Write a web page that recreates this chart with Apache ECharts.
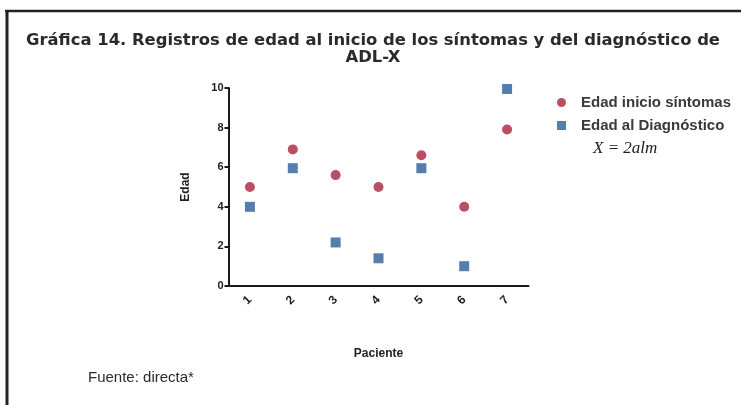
<!DOCTYPE html>
<html><head><meta charset="utf-8">
<script src="https://cdn.jsdelivr.net/npm/echarts@6/dist/echarts.min.js"></script>
<style>html,body{margin:0;padding:0;background:#fff}#c{width:741px;height:405px}</style>
</head><body><div id="c"></div>
<script>
const categories = ['1','2','3','4','5','6','7'];
const inicioSintomas = [5, 6.9, 5.6, 5, 6.6, 4, 7.9];
const diagnostico = [4, 5.95, 2.2, 1.4, 5.95, 1, 9.95];
const yTicks = [0, 2, 4, 6, 8, 10];

const chart = echarts.init(document.getElementById('c'));
chart.setOption({
  animation: false,
  backgroundColor: '#fff',
  title: {
    text: 'Gráfica 14. Registros de edad al inicio de los síntomas y del diagnóstico de\nADL-X',
    left: 368, top: 27, textAlign: 'center',
    textStyle: {fontFamily: 'DejaVu Sans', fontSize: 16.4, fontWeight: 'bold', color: '#2a2a2a', lineHeight: 17}
  },
  legend: {
    left: 552, top: 90, orient: 'vertical', itemGap: 8, itemWidth: 9, itemHeight: 9,
    textStyle: {fontFamily: 'Liberation Sans', fontSize: 15, fontWeight: 'bold', color: '#3a3a3a', padding: [0,0,0,10]},
    data: [{name: 'Edad inicio síntomas', icon: 'circle'}, {name: 'Edad al Diagnóstico', icon: 'rect'}]
  },
  grid: {left: 228.5, right: 212.5, top: 88, bottom: 119},
  xAxis: {
    type: 'category', data: categories, boundaryGap: true,
    name: 'Paciente', nameLocation: 'middle', nameGap: 62,
    nameTextStyle: {fontFamily: 'Liberation Sans', fontSize: 12, fontWeight: 'bold', color: '#222'},
    axisLine: {lineStyle: {color: '#1a1a1a', width: 2}},
    axisTick: {alignWithLabel: true, length: 4, lineStyle: {color: '#1a1a1a', width: 2}},
    axisLabel: {rotate: 45, margin: 12, fontFamily: 'Liberation Sans', fontSize: 12, fontWeight: 'bold', color: '#222'},
    splitLine: {show: false}
  },
  yAxis: {
    type: 'value', min: 0, max: 10, interval: 2,
    name: 'Edad', nameLocation: 'middle', nameGap: 37, nameRotate: 90,
    nameTextStyle: {fontFamily: 'Liberation Sans', fontSize: 12, fontWeight: 'bold', color: '#222'},
    axisLine: {show: true, lineStyle: {color: '#1a1a1a', width: 2}},
    axisTick: {show: true, length: 4, lineStyle: {color: '#1a1a1a', width: 2}},
    axisLabel: {margin: 5, fontFamily: 'Liberation Sans', fontSize: 11, fontWeight: 'bold', color: '#222',
      formatter: v => yTicks.includes(v) ? String(v) : ''},
    splitLine: {show: false}
  },
  series: [
    {name: 'Edad inicio síntomas', type: 'scatter', data: inicioSintomas, symbol: 'circle', symbolSize: 10,
     itemStyle: {color: '#a9233a'}},
    {name: 'Edad al Diagnóstico', type: 'scatter', data: diagnostico, symbol: 'rect', symbolSize: 10,
     itemStyle: {color: '#2b5e98'}}
  ],
  graphic: [
    {type: 'line', shape: {x1: 5, y1: 11, x2: 741, y2: 11}, style: {stroke: '#222', lineWidth: 2.5}},
    {type: 'line', shape: {x1: 7, y1: 10, x2: 7, y2: 405}, style: {stroke: '#222', lineWidth: 3}},
    {type: 'text', left: 593, top: 140, style: {text: 'X = 2alm', font: 'italic 17px "Liberation Serif"', fill: '#222'}},
    {type: 'text', left: 88, top: 370, style: {text: 'Fuente: directa*', font: '15px "Liberation Sans"', fill: '#2a2a2a'}}
  ]
});
</script></body></html>
